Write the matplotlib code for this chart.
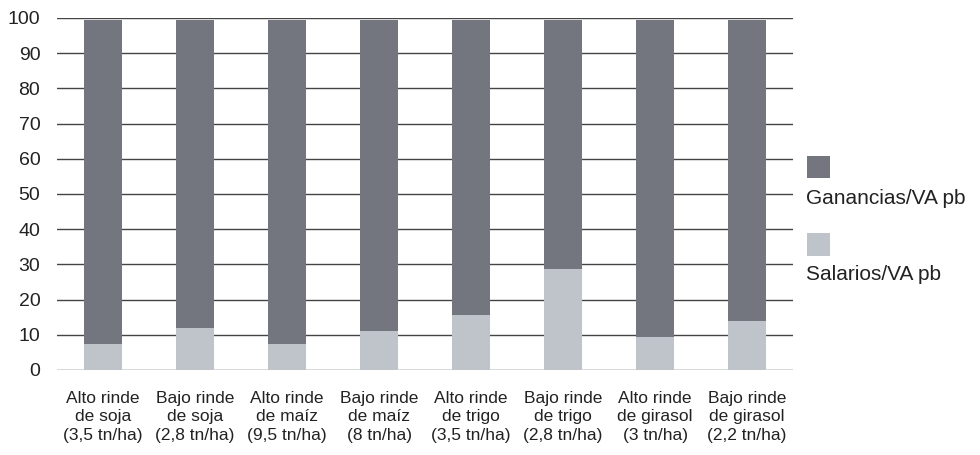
import matplotlib
matplotlib.use("Agg")
import matplotlib.pyplot as plt
from matplotlib.patches import Rectangle

plt.rcParams['font.family'] = ['Liberation Sans Narrow', 'Liberation Sans', 'DejaVu Sans']

categories = [
    "Alto rinde\nde soja\n(3,5 tn/ha)",
    "Bajo rinde\nde soja\n(2,8 tn/ha)",
    "Alto rinde\nde maíz\n(9,5 tn/ha)",
    "Bajo rinde\nde maíz\n(8 tn/ha)",
    "Alto rinde\nde trigo\n(3,5 tn/ha)",
    "Bajo rinde\nde trigo\n(2,8 tn/ha)",
    "Alto rinde\nde girasol\n(3 tn/ha)",
    "Bajo rinde\nde girasol\n(2,2 tn/ha)",
]
salarios = [7.4, 12.0, 7.4, 11.1, 15.7, 28.6, 9.4, 14.0]
ganancias = [92.1, 87.5, 92.1, 88.4, 83.8, 70.9, 90.1, 85.5]
yticks = [0, 10, 20, 30, 40, 50, 60, 70, 80, 90, 100]

dark = "#74767f"
light = "#bfc3ca"
grid = "#444444"

fig = plt.figure(figsize=(9.8, 4.55), dpi=100)
ax = fig.add_axes([57/980, (455-370)/455, (793-57)/980, (370-18)/455])

x = list(range(len(categories)))
ax.bar(x, salarios, width=0.41, color=light, zorder=3)
ax.bar(x, ganancias, width=0.41, bottom=salarios, color=dark, zorder=3)

for t in yticks:
    ax.axhline(t, color=grid, linewidth=1.0, zorder=1)

ax.set_xlim(-0.5, len(categories) - 0.5)
ax.set_ylim(0, 100)
ax.set_yticks(yticks)
ax.set_yticklabels([str(t) for t in yticks], fontsize=14)
ax.set_xticks(x)
ax.set_xticklabels(categories, fontsize=12.5, linespacing=1.3)
ax.tick_params(axis='both', length=0, colors="#222222")
ax.tick_params(axis='y', pad=12)
ax.tick_params(axis='x', pad=15)
for s in ax.spines.values():
    s.set_visible(False)

# legend
def px2fig(px, py):
    return px / 980, 1 - py / 455

lx, ly = px2fig(807, 178)
fig.patches.append(Rectangle((lx, ly), 23/980, 22/455, transform=fig.transFigure,
                             facecolor=dark, edgecolor='none'))
tx, ty = px2fig(806, 198)
fig.text(tx, ty, "Ganancias/VA pb", fontsize=15, va='center', ha='left', color="#222222")

lx, ly = px2fig(807, 256)
fig.patches.append(Rectangle((lx, ly), 23/980, 23/455, transform=fig.transFigure,
                             facecolor=light, edgecolor='none'))
tx, ty = px2fig(806, 275)
fig.text(tx, ty, "Salarios/VA pb", fontsize=15, va='center', ha='left', color="#222222")

fig.savefig("out.png", dpi=100)
